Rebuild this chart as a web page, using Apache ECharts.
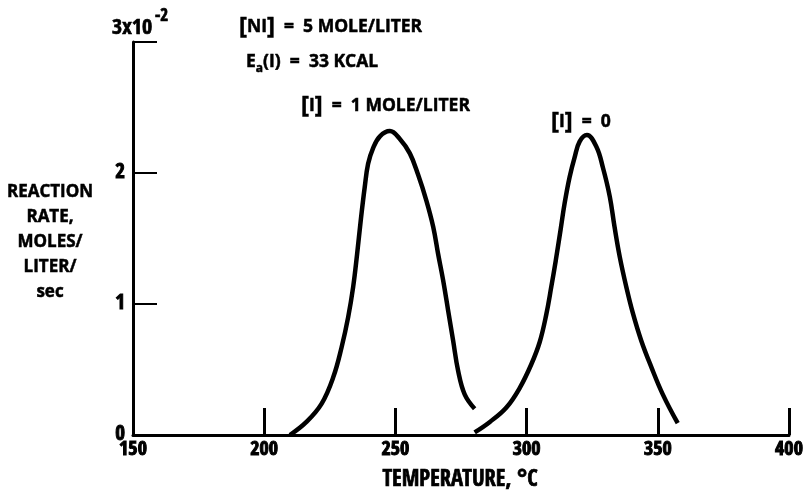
<!DOCTYPE html>
<html>
<head>
<meta charset="utf-8">
<script src="https://cdn.jsdelivr.net/npm/echarts@6/dist/echarts.min.js"></script>
<style>
html,body{margin:0;padding:0;background:#fff;}
#chart{width:809px;height:492px;}
</style>
</head>
<body>
<div id="chart"></div>
<script>
// Curve with [I] = 1 mole/liter  (temperature in deg C, rate in units of 1e-2 mol/L/s)
const temps1 = [209.8, 216.1, 221.9, 226.3, 229.5, 232.0, 233.9, 235.4, 236.8, 238.3, 239.6, 241.5, 244.1, 247.9, 251.7, 255.5, 258.6, 261.8, 264.4, 266.3, 268.2, 270.1, 272.0, 273.9, 276.4, 280.2];
const rates1 = [0.00, 0.10, 0.24, 0.44, 0.67, 0.90, 1.13, 1.38, 1.64, 1.89, 2.07, 2.19, 2.28, 2.32, 2.26, 2.15, 1.99, 1.79, 1.59, 1.38, 1.18, 0.95, 0.72, 0.49, 0.31, 0.20];
// Curve with [I] = 0
const temps2 = [280.2, 286.0, 292.3, 297.4, 301.8, 305.0, 307.5, 309.4, 311.1, 312.9, 314.5, 316.4, 318.3, 320.2, 323.0, 326.6, 329.1, 331.7, 333.5, 335.5, 338.0, 340.5, 343.7, 347.5, 351.9, 357.6];
const rates2 = [0.02, 0.10, 0.21, 0.36, 0.54, 0.71, 0.92, 1.13, 1.33, 1.56, 1.77, 1.97, 2.12, 2.24, 2.29, 2.20, 2.04, 1.82, 1.59, 1.36, 1.13, 0.93, 0.72, 0.52, 0.31, 0.09];
const xTicks = [150, 200, 250, 300, 350, 400];
const yTicks = [0, 1, 2, 3];
const yTopLabel = '3x10';
const yTopExp = '-2';
const xTitle = 'TEMPERATURE, ';
const yTitleLines = ['REACTION', 'RATE,', 'MOLES/', 'LITER/', 'sec'];

const CFONT = '"Open Sans Condensed", "Roboto Condensed", "DejaVu Sans Condensed", sans-serif';
const WFONT = '"Open Sans", "Noto Sans", sans-serif';
const zip = (a, b) => a.map((v, i) => [v, b[i]]);
const T = (size, extra) => Object.assign({fontFamily: CFONT, fontWeight: 'bold', fontSize: size, fill: '#000', stroke: '#000', lineWidth: 0.7}, extra || {});
const W = (size, extra) => Object.assign({fontFamily: WFONT, fontWeight: 'bold', fontSize: size, fill: '#000', stroke: '#000', lineWidth: 0.5}, extra || {});
const axisLabelStyle = size => ({color: '#000', fontFamily: CFONT, fontWeight: 700, fontSize: size, textBorderColor: '#000', textBorderWidth: 1});

const chart = echarts.init(document.getElementById('chart'), null, {renderer: 'canvas'});
chart.setOption({
  backgroundColor: '#fff',
  animation: false,
  grid: {left: 133, right: 20, top: 42, bottom: 57},
  xAxis: {
    type: 'value', min: xTicks[0], max: xTicks[xTicks.length - 1], interval: 50,
    axisLine: {lineStyle: {color: '#000', width: 3}},
    axisTick: {inside: true, length: 27, lineStyle: {color: '#000', width: 3}},
    axisLabel: Object.assign({margin: 5}, axisLabelStyle(20)),
    splitLine: {show: false}
  },
  yAxis: {
    type: 'value', min: yTicks[0], max: yTicks[yTicks.length - 1], interval: 1,
    axisLine: {lineStyle: {color: '#000', width: 3}},
    axisTick: {inside: true, length: 24, lineStyle: {color: '#000', width: 2}},
    axisLabel: Object.assign({margin: 8, formatter: v => (v === 3 ? '' : String(v))}, axisLabelStyle(21)),
    splitLine: {show: false}
  },
  series: [
    {type: 'line', data: zip(temps1, rates1), smooth: 0.4, symbol: 'none', lineStyle: {color: '#000', width: 4.5}},
    {type: 'line', data: zip(temps2, rates2), smooth: 0.4, symbol: 'none', lineStyle: {color: '#000', width: 4.5}}
  ],
  graphic: [
    {type: 'text', x: 112, y: 28, style: T(22, {text: yTopLabel, verticalAlign: 'middle'})},
    {type: 'text', x: 155, y: 17, style: T(17, {text: yTopExp, verticalAlign: 'middle'})},
    {type: 'text', x: 460, y: 480, style: {
      text: '{b|' + xTitle + '}{d|°}{b|C}', align: 'center', verticalAlign: 'middle',
      rich: {b: T(22.5), d: T(25)}
    }},
    {type: 'text', x: 50, y: 180, style: W(17, {
      text: yTitleLines.join('\n'), align: 'center', verticalAlign: 'top', lineHeight: 25
    })},
    {type: 'text', x: 239, y: 27, style: {
      text: '{k|[}{t|NI}{k|]}{t|  =  5 MOLE/LITER}', verticalAlign: 'middle',
      rich: {k: W(24), t: W(17.5)}
    }},
    {type: 'text', x: 246, y: 64, style: {
      text: '{t|E}{a|a}{t|(I)  =  33 KCAL}', verticalAlign: 'middle',
      rich: {t: W(17.5, {verticalAlign: 'top'}), a: W(12, {verticalAlign: 'top', padding: [9, 0, 0, 0]})}
    }},
    {type: 'text', x: 301, y: 106, style: {
      text: '{k|[}{t|I}{k|]}{t|  =  1 MOLE/LITER}', verticalAlign: 'middle',
      rich: {k: W(24), t: W(17.5)}
    }},
    {type: 'text', x: 551, y: 122, style: {
      text: '{k|[}{t|I}{k|]}{t|  =  0}', verticalAlign: 'middle',
      rich: {k: W(24), t: W(17.5)}
    }}
  ]
});
</script>
</body>
</html>
